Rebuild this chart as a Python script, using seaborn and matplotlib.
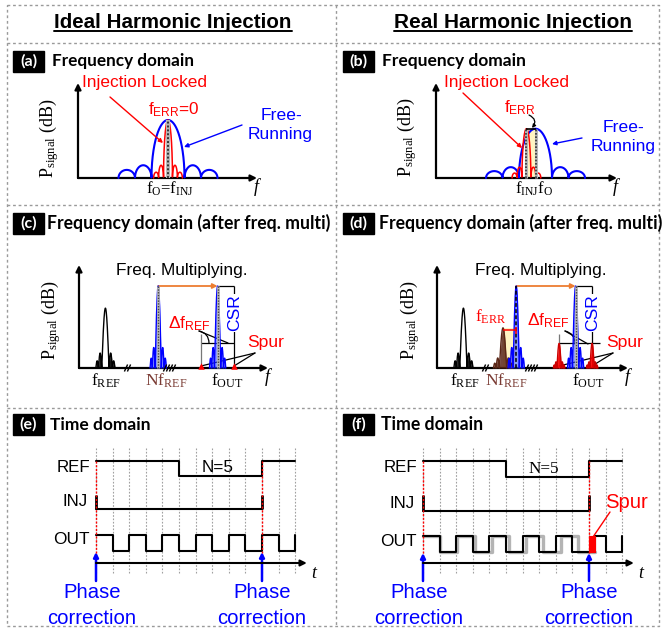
import numpy as np
import matplotlib
matplotlib.use("Agg")
import matplotlib.pyplot as plt
from matplotlib.patches import Rectangle
from matplotlib.transforms import Affine2D
import seaborn as sns

W, H = 664, 629
sns.set_theme(style="white")
SANS = ["Liberation Sans", "DejaVu Sans"]
SERIF = ["Liberation Serif", "DejaVu Serif"]
HEAD = ["Lato", "DejaVu Sans"]
plt.rcParams["font.family"] = SANS

BLUE = "#0000ff"
RED = "#ff0000"
ORANGE = "#ed7d31"
BROWN = "#5a2616"
BROWN_TXT = "#7a3b33"
YELLOW = "#fff4c2"
GRID = "#a0a0a0"

# ---------------- data ----------------
# (a)/(b): oscillator spectrum, frequency in main-lobe half-widths,
# power normalised to the free-running peak
free_pos = [-2.5, -1.5, 0.0, 1.5, 2.5]
free_width = [1.0, 1.0, 2.0, 1.0, 1.0]
free_height = [0.14, 0.22, 1.0, 0.22, 0.14]
lock_pos = [-0.72, -0.42, 0.0, 0.42, 0.72]
lock_width = [0.3, 0.3, 0.54, 0.3, 0.3]
lock_height = [0.10, 0.22, 1.0, 0.22, 0.10]
real_peak = 0.85          # peak level in the real case
real_f_err = -0.55        # f_INJ - f_O

# (c)/(d): single tone shape (offsets in units of f_REF spacing)
tone_pos = [-0.50, -0.32, 0.0, 0.32, 0.50]
tone_width = [0.16, 0.20, 0.44, 0.20, 0.16]
tone_rel = [0.12, 0.25, 1.0, 0.25, 0.12]
# tone positions along the (broken) frequency axis and their levels
ideal_freqs = [1.6, 4.8, 8.4]          # f_REF, N f_REF, f_OUT
ideal_amps = [0.73, 1.0, 1.0]
real_freqs = [1.6, 4.0, 4.8, 8.4]      # f_REF, N f_REF, locked tone, f_OUT
real_amps = [0.73, 0.49, 1.0, 1.0]
spur_offsets = [-1.0, 1.0]             # ± Δf_REF around f_OUT
spur_level = 0.30

# (e)/(f): waveforms, one entry per half period of OUT
ref_levels = [1, 1, 1, 1, 1, 0, 0, 0, 0, 0, 1, 1]
out_levels = [1, 0, 1, 0, 1, 0, 1, 0, 1, 0, 1, 0]
inj_pulses = [0, 10]
n_ratio = 5
out_drift = 0.036          # period stretch of the free-running output
spur_width = 0.36          # phase jump at the correction instant (slots)

# ---------------- figure ----------------
fig = plt.figure(figsize=(W / 100, H / 100), dpi=100)
cv = fig.add_axes([0, 0, 1, 1])
cv.set_xlim(0, W)
cv.set_ylim(H, 0)
cv.axis("off")
cv.set_autoscale_on(False)
renderer = fig.canvas.get_renderer()


def frame(ox, oy, ux, uy):
    return Affine2D().scale(ux, -uy).translate(ox, oy) + cv.transData


def lobes(x, pos, width, height, shape="ellipse"):
    y = np.zeros_like(x)
    for c, w, h in zip(pos, width, height):
        u = (x - c) / (w / 2)
        m = np.abs(u) < 1
        if shape == "ellipse":
            y[m] += h * np.sqrt(1 - u[m] ** 2)
        else:
            y[m] += h * np.cos(np.pi / 2 * u[m])
    return y


def curve(x, y, tr, color, lw, zorder=3, **kw):
    sns.lineplot(x=np.asarray(x, float), y=np.asarray(y, float), ax=cv,
                 color=color, linewidth=lw, estimator=None, sort=False,
                 legend=False, transform=tr, zorder=zorder, **kw)


def arrow(x0, y0, x1, y1, color="black", lw=1.5, head=10, style="-|>",
          coords="data", **kw):
    cv.annotate("", xy=(x1, y1), xytext=(x0, y0), xycoords=coords,
                textcoords=coords, annotation_clip=False,
                arrowprops=dict(arrowstyle=style, color=color, lw=lw,
                                mutation_scale=head, shrinkA=0, shrinkB=0, **kw))


def txt(x, y, s, size, color="black", family=SANS, ha="center", va="center", **kw):
    return cv.text(x, y, s, fontsize=size, color=color, family=family,
                   ha=ha, va=va, **kw)


def fit(t, width):
    w = t.get_window_extent(renderer).width
    t.set_fontsize(t.get_fontsize() * width / w)
    return t


def seg(xs, ys, color="black", lw=1.0, ls="-", zorder=3, tr=None):
    cv.plot(xs, ys, color=color, lw=lw, ls=ls, zorder=zorder,
            transform=tr if tr is not None else cv.transData,
            solid_capstyle="butt")


# ---------------- frames and headings ----------------
dash = dict(color="#9a9a9a", lw=1.0, ls=(0, (2, 2)), zorder=1)
cv.plot([7, 659, 659, 7, 7], [5, 5, 626, 626, 5], **dash)
cv.plot([336, 336], [5, 626], **dash)
for yy in (43, 205, 408):
    cv.plot([7, 659], [yy, yy], **dash)

for s, cx in (("Ideal Harmonic Injection", 173), ("Real Harmonic Injection", 513)):
    t = txt(cx, 22, s, 15, weight="bold")
    fit(t, 238)
    bb = t.get_window_extent(renderer)
    cv.plot([bb.x0, bb.x1], [H - bb.y0 - 1, H - bb.y0 - 1], color="black", lw=1.4)

heads = [("(a)", 13, 51, "Frequency domain", 52, 141, 61),
         ("(b)", 343, 51, "Frequency domain", 382, 143, 61),
         ("(c)", 13, 213, "Frequency domain (after freq. multi)", 47, 281, 223),
         ("(d)", 343, 213, "Frequency domain (after freq. multi)", 379, 281, 223),
         ("(e)", 13, 414, "Time domain", 50, 100, 425),
         ("(f)", 343, 414, "Time domain", 381, 101, 425)]
for tag, bx, by, s, hx, hw, hy in heads:
    cv.add_patch(Rectangle((bx, by), 31, 21, color="black", zorder=2))
    txt(bx + 15.5, by + 10, tag, 11.5, color="white", family=HEAD, weight="bold", zorder=3)
    fit(txt(hx, hy, s, 12, family=HEAD, weight="bold", ha="left"), hw)


def spectrum_axes(x0, ybase, ytop, xend, ylab_x, ylab_y, f_x):
    arrow(x0, ybase, x0, ytop, lw=1.6, head=9)
    arrow(x0, ybase, xend, ybase, lw=1.6, head=9)
    txt(ylab_x, ylab_y, r"$\mathregular{P_{signal}}$ (dB)", 13, family=SERIF, rotation=90)
    txt(f_x, ybase + 9, "f", 13, family=SERIF, style="italic")


# ---------------- (a) ideal injection, frequency domain ----------------
spectrum_axes(78, 178, 83, 257, 49, 138, 256)
tr_a = frame(168, 178, 16.5, 58)
xa = np.linspace(-3.0, 3.0, 4001)
curve(xa, lobes(xa, free_pos, free_width, free_height), tr_a, BLUE, 1.5)
xl = np.linspace(-0.87, 0.87, 2001)
curve(xl, lobes(xl, lock_pos, lock_width, lock_height), tr_a, RED, 1.1, zorder=4)
seg([0, 0], [0, 1.0], color="#b8b8b8", lw=3.0, zorder=5, tr=tr_a)
seg([0, 0], [0, 1.0], color="#333333", lw=1.4, ls=(0, (1, 1)), zorder=6, tr=tr_a)

txt(145, 82, "Injection Locked", 12.4, color=RED)
arrow(110, 97, 163, 143, color=RED, lw=1.0, head=6)
txt(174, 110, r"$\mathregular{f_{ERR}}$=0", 12.3, color=RED)
txt(281, 115, "Free-", 12.6, color=BLUE)
txt(280, 135, "Running", 12.6, color=BLUE)
arrow(242, 125, 184, 147, color=BLUE, lw=1.0, head=6)
txt(170, 189, r"$\mathregular{f_{O}}$=$\mathregular{f_{INJ}}$", 12, family=SERIF)

# ---------------- (b) real injection, frequency domain ----------------
spectrum_axes(436, 178, 83, 617, 407, 137, 615)
tr_b = frame(535.5, 178, 16.5, 58)
cv.add_patch(Rectangle((real_f_err, 0), -real_f_err, real_peak, transform=tr_b,
                       facecolor=YELLOW, edgecolor="none", zorder=2))
xb = np.linspace(-3.0, 3.0, 4001)
curve(xb, real_peak * lobes(xb, free_pos, free_width, free_height), tr_b, BLUE, 1.5)
xr = np.linspace(-0.87, 0.87, 2001)
curve(xr + real_f_err, real_peak * lobes(xr, lock_pos, lock_width, lock_height),
      tr_b, RED, 1.1, zorder=4)
for fx in (real_f_err, 0.0):
    seg([fx, fx], [0, real_peak], color="#b8b8b8", lw=2.2, zorder=5, tr=tr_b)
    seg([fx, fx], [0, real_peak], color="#333333", lw=1.2, ls=(0, (1, 1)), zorder=6, tr=tr_b)
seg([real_f_err, 0], [real_peak, real_peak], color="black", lw=1.2, zorder=6, tr=tr_b)

txt(507, 83, "Injection Locked", 12.4, color=RED)
arrow(463, 93, 522, 148, color=RED, lw=1.0, head=6)
txt(520, 108, r"$\mathregular{f_{ERR}}$", 12.3, color=RED)
arrow(529, 115, 532, 128, color="black", lw=0.9, head=5,
      connectionstyle="arc3,rad=-0.6")
txt(624, 128, "Free-", 12.6, color=BLUE)
txt(623, 147, "Running", 12.6, color=BLUE)
arrow(582, 138, 552, 144, color=BLUE, lw=1.0, head=6)
txt(534, 189, r"$\mathregular{f_{INJ}f_{O}}$", 12, family=SERIF)


# ---------------- (c)/(d) after frequency multiplication ----------------
def tone(tr, f, amp, line_col, fill_col, fill_alpha, side_only=False, lw=1.0, z=3,
         spread=1.0):
    x = np.linspace(-0.58, 0.58, 1501)
    y = amp * lobes(x, tone_pos, tone_width, tone_rel, "cos")
    xs = f + spread * x
    if side_only:
        ys = amp * lobes(x, [p for p in tone_pos if p != 0],
                         [w for p, w in zip(tone_pos, tone_width) if p != 0],
                         [r for p, r in zip(tone_pos, tone_rel) if p != 0], "cos")
        cv.fill_between(xs, 0, ys, transform=tr, color=fill_col,
                        alpha=fill_alpha, lw=0, zorder=z)
    else:
        cv.fill_between(xs, 0, y, transform=tr, color=fill_col,
                        alpha=fill_alpha, lw=0, zorder=z)
    curve(xs, y, tr, line_col, lw, zorder=z + 0.5)


def breaks(xs, y):
    for x in xs:
        seg([x - 1.6, x + 1.6], [y + 3.5, y - 3.5], lw=1.0, zorder=6)


def multiplied(ox, freqs, amps, kinds, ylab_x, f_x, real):
    spectrum_axes(ox, 368, 265, f_x + 1, ylab_x, 320, f_x)
    tr = frame(ox, 368, 16.5, 82)
    f_out = freqs[-1]
    if real:
        cv.add_patch(Rectangle((freqs[1], 0), freqs[2] - freqs[1], amps[1], transform=tr,
                               facecolor=YELLOW, edgecolor="none", zorder=2))
    for f, a, k in zip(freqs, amps, kinds):
        if k == "ref":
            tone(tr, f, a, "black", "black", 0.9, side_only=True)
        elif k == "brown":
            tone(tr, f, a, BROWN, BROWN, 0.85)
        else:
            tone(tr, f, a, BLUE, "#3b55ff", 0.6, z=3.2, spread=0.85)
            if real and f != f_out:
                seg([f, f], [0, a], color="black", lw=1.1, ls=(0, (2.5, 1.5)), zorder=6, tr=tr)
            else:
                seg([f, f], [0, a], color="#bbbbbb", lw=2.0, zorder=5, tr=tr)
                seg([f, f], [0, a], color="#444444", lw=1.0, ls=(0, (1, 1)), zorder=6, tr=tr)
    f_src = freqs[-2]
    arrow(f_src, 1.0, f_out, 1.0, color=ORANGE, lw=1.3, head=7, coords=tr)
    # carrier-to-spur bracket
    seg([f_out, f_out + 1], [1.0, 1.0], lw=0.9, tr=tr)
    seg([f_out + 1, f_out + 1], [0, 1.0], lw=0.9, tr=tr)
    right = f_out + (1.5 if real else 1.0)
    seg([f_out - 1, right], [spur_level, spur_level], lw=0.9, tr=tr)
    seg([f_out - 1, f_out - 1], [0, spur_level + 0.12], color="#777777", lw=0.9, tr=tr)
    for d in spur_offsets:
        if real:
            tone(tr, f_out + d, spur_level, "#cc0000", RED, 0.9, z=3.4, spread=0.6)
        else:
            sns.scatterplot(x=[f_out + d], y=[0.02], ax=cv, marker="^", color=RED,
                            s=22, linewidth=0, transform=tr, zorder=6, legend=False)
    return tr


kinds_c = ["ref", "blue", "blue"]
tr_c = multiplied(79, ideal_freqs, ideal_amps, kinds_c, 51, 267, False)
breaks([126, 129], 368)
breaks([165, 168, 171, 174], 368)
txt(182, 271, "Freq. Multiplying.", 12.4)
txt(235, 313, "CSR", 12.6, color=BLUE, rotation=90,
    bbox=dict(facecolor="white", edgecolor="none", pad=0.3), zorder=7)
txt(189, 324, r"Δ$\mathregular{f_{REF}}$", 12.6, color=RED)
arrow(199, 331, 209, 343, lw=0.9, style="-", connectionstyle="arc3,rad=-0.4")
arrow(199, 331, 228, 343, lw=0.9, style="-")
txt(266, 342, "Spur", 12.6, color=RED)
arrow(255, 353, 201, 366, lw=0.9, style="-")
arrow(255, 353, 234, 366, lw=0.9, style="-")
txt(106, 381, r"$\mathregular{f_{REF}}$", 12.5, family=SERIF)
txt(166, 381, r"$\mathregular{Nf_{REF}}$", 12.5, family=SERIF, color=BROWN_TXT)
txt(227, 381, r"$\mathregular{f_{OUT}}$", 12.5, family=SERIF)

kinds_d = ["ref", "brown", "blue", "blue"]
tr_d = multiplied(437, real_freqs, real_amps, kinds_d, 410, 627, True)
breaks([484, 487], 368)
breaks([527, 530, 533, 536], 368)
seg([real_freqs[1], real_freqs[2]], [0.46, 0.46], color=RED, lw=1.1, zorder=6, tr=tr_d)
seg([real_freqs[2], real_freqs[2]], [0.42, 0.50], color=RED, lw=1.1, zorder=6, tr=tr_d)
txt(491, 317, r"$\mathregular{f_{ERR}}$", 12.5, family=SERIF, color=RED)
txt(541, 271, "Freq. Multiplying.", 12.4)
txt(593, 313, "CSR", 12.6, color=BLUE, rotation=90,
    bbox=dict(facecolor="white", edgecolor="none", pad=0.3), zorder=7)
txt(548, 321, r"Δ$\mathregular{f_{REF}}$", 12.6, color=RED)
arrow(565, 331, 575, 344, lw=0.9, style="-", connectionstyle="arc3,rad=-0.4")
arrow(565, 331, 588, 344, lw=0.9, style="-")
txt(625, 342, "Spur", 12.6, color=RED)
arrow(613, 353, 559, 366, lw=0.9, style="-")
arrow(613, 353, 592, 366, lw=0.9, style="-")
txt(465, 381, r"$\mathregular{f_{REF}}$", 12.5, family=SERIF)
txt(506, 381, r"$\mathregular{Nf_{REF}}$", 12.5, family=SERIF, color=BROWN_TXT)
txt(588, 381, r"$\mathregular{f_{OUT}}$", 12.5, family=SERIF)


# ---------------- (e)/(f) time domain ----------------
def steps(levels):
    xs, ys = [], []
    for k, lv in enumerate(levels):
        xs += [k, k + 1]
        ys += [lv, lv]
    return np.array(xs, float), np.array(ys, float)


SLOT = 16.6


def time_panel(ox, rows, real, n_font):
    n = len(ref_levels)
    for k in range(n + 1):
        seg([ox + k * SLOT] * 2, [448, 573], color=GRID, lw=0.8, ls=(0, (1.5, 1.5)), zorder=1)
    (ref_b, ref_a), (inj_b, inj_a), (out_b, out_a) = rows
    tr_ref = Affine2D().scale(SLOT, -ref_a).translate(ox, ref_b) + cv.transData
    tr_inj = Affine2D().scale(SLOT, -inj_a).translate(ox, inj_b) + cv.transData
    tr_out = Affine2D().scale(SLOT, -out_a).translate(ox, out_b) + cv.transData
    xr, yr = steps(ref_levels)
    curve(xr, yr, tr_ref, "black", 1.5)
    curve([0, inj_pulses[-1]], [0, 0], tr_inj, "black", 1.5)
    for p in inj_pulses:
        seg([p, p], [0, 1], lw=2.0, zorder=4, tr=tr_inj)
    xo, yo = steps(out_levels)
    xo = np.append(xo, n)
    yo = np.append(yo, 1)
    if real:
        corr = inj_pulses[-1]
        xg, yg = steps(out_levels[:corr])
        curve(xg * (1 + out_drift), yg, tr_out, "#b4b4b4", 2.4, zorder=2.5)
        xo = np.where(np.isclose(xo, corr), corr + spur_width, xo)
        cv.add_patch(Rectangle((corr, 0), spur_width, 1, transform=tr_out,
                               facecolor=RED, edgecolor=RED, lw=0.8, zorder=4))
    curve(xo, yo, tr_out, "black", 1.5)
    for p in inj_pulses:
        x = ox + p * SLOT
        seg([x, x], [ref_b - ref_a, out_b + 2], color=RED, lw=1.0, ls=(0, (1.5, 1.2)), zorder=5)
        arrow(x, 581, x, out_b + 1, color=BLUE, lw=1.8, head=7)
        txt(x - 4 if p == 0 else x, 593, "Phase", 14.6, color=BLUE)
        txt(x - 4 if p == 0 else x, 618, "correction", 14.6, color=BLUE)
    arrow(ox, 563, ox + 12.7 * SLOT, 563, lw=1.5, head=9)
    txt(ox + 13.1 * SLOT, 574, "t", 13, family=SERIF, style="italic")
    txt(ox - 6, ref_b - 9, "REF", 12.2, ha="right")
    txt(ox - 8, inj_b - 7, "INJ", 12.2, ha="right")
    txt(ox - 6, out_b - 11, "OUT", 12.4, ha="right")
    txt(ox + 7.3 * SLOT, ref_b - 8, f"N={n_ratio}", 12.3, **n_font)
    return tr_out


time_panel(96, [(476, 15), (509, 14), (551, 16)], False, {})
time_panel(423, [(477, 16), (511, 16), (552, 16)], True, {"family": SERIF})
txt(626, 502, "Spur", 14.6, color=RED)
arrow(610, 512, 593, 537, color=RED, lw=1.0, style="-")

cv.set_xlim(0, W)
cv.set_ylim(H, 0)
fig.savefig("out.png", dpi=100, facecolor="white")
